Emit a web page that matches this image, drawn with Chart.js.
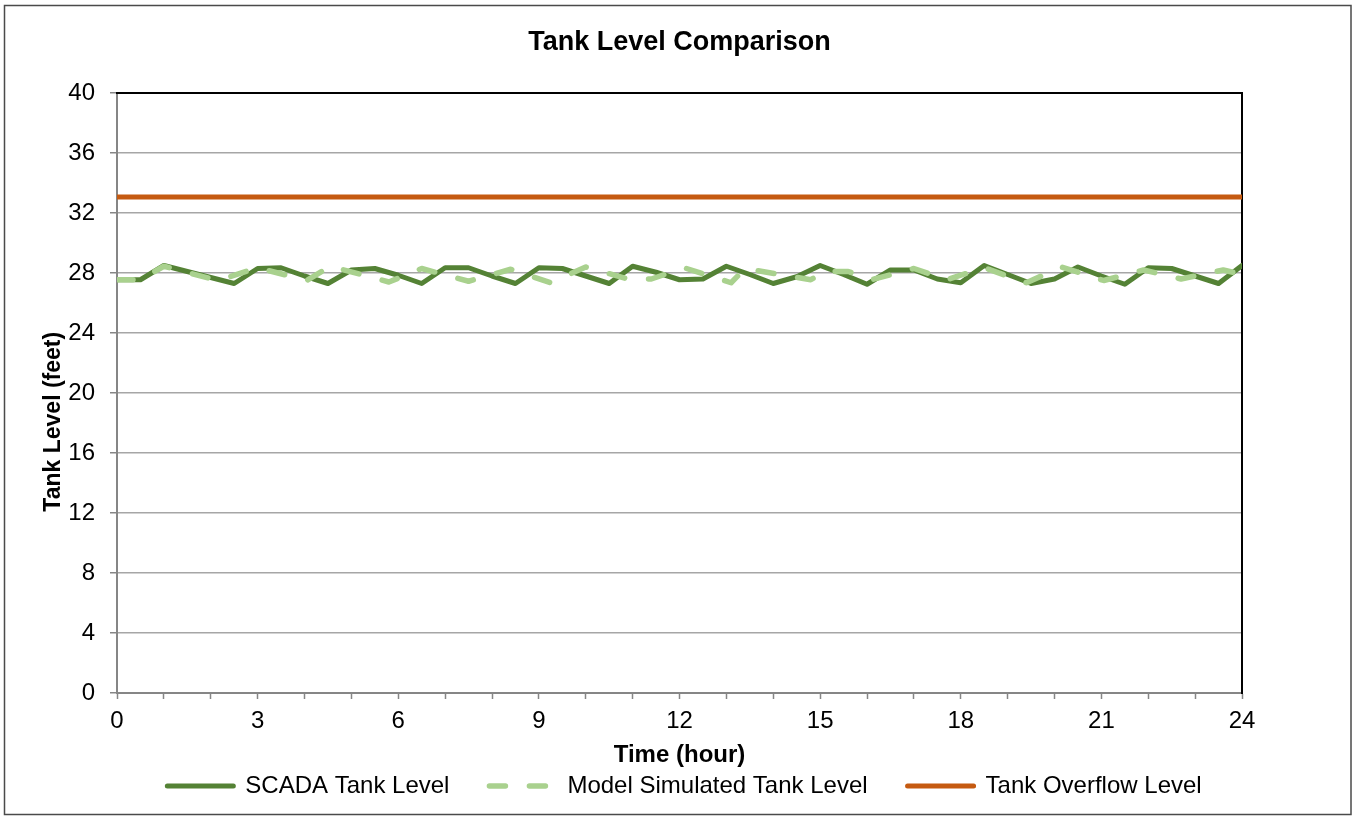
<!DOCTYPE html>
<html>
<head>
<meta charset="utf-8">
<title>Tank Level Comparison</title>
<script src="https://cdn.jsdelivr.net/npm/chart.js@4/dist/chart.umd.min.js"></script>
<style>
  html, body { margin: 0; padding: 0; background: #fff; }
  #wrap { position: relative; width: 1354px; height: 817px; }
</style>
</head>
<body>
<div id="wrap"><canvas id="tankChart" width="1354" height="817"></canvas></div>
<script>
'use strict';

/* ── data ─────────────────────────────────── */
const scadaHours = [0, 0.5, 1, 1.5, 2, 2.5, 3, 3.5, 4, 4.5, 5, 5.5, 6, 6.5, 7, 7.5, 8, 8.5,
  9, 9.5, 10, 10.5, 11, 11.5, 12, 12.5, 13, 13.5, 14, 14.5, 15, 15.5, 16, 16.5,
  17, 17.5, 18, 18.5, 19, 19.5, 20, 20.5, 21, 21.5, 22, 22.5, 23, 23.5, 24];
const scadaLevel = [27.55, 27.55, 28.5, 28.1, 27.7, 27.3, 28.3, 28.35, 27.8, 27.3, 28.2, 28.3, 27.85, 27.3, 28.35, 28.35, 27.8, 27.3,
  28.35, 28.3, 27.8, 27.3, 28.45, 28.05, 27.55, 27.6, 28.45, 27.9, 27.3, 27.75, 28.5, 27.9, 27.25, 28.2,
  28.2, 27.6, 27.35, 28.5, 27.9, 27.3, 27.6, 28.4, 27.8, 27.25, 28.35, 28.3, 27.8, 27.3, 28.5];

const modelHours = [0, 0.5, 1, 2.15, 3, 4.05, 4.55, 5.8, 6.5, 7.5, 8.4, 9.25, 10, 10.9, 11.4, 12.1,
  13.1, 13.4, 14.8, 15.1, 15.6, 16.1, 17, 17.7, 18.5, 19.4, 20.15, 21.05, 21.9, 22.7, 23.6, 24];
const modelLevel = [27.55, 27.55, 28.45, 27.5, 28.35, 27.5, 28.45, 27.4, 28.3, 27.45, 28.25, 27.35, 28.4, 27.6, 27.6, 28.35,
  27.35, 28.3, 27.55, 28.1, 28.1, 27.55, 28.3, 27.55, 28.35, 27.35, 28.4, 27.5, 28.2, 27.6, 28.2, 27.9];

const overflowHours = [0, 24];
const overflowLevel = [33.07, 33.07];

const seriesNames = ['SCADA Tank Level', 'Model Simulated Tank Level', 'Tank Overflow Level'];
const seriesColors = ['#548235', '#A9D18E', '#C55A11'];

const xMin = 0, xMax = 24, xStep = 1, xLabelEvery = 3;
const yMin = 0, yMax = 40, yStep = 4;

const FONT = '"Liberation Sans", Arial, sans-serif';
const AXIS_GRAY = '#868686';

/* ── helpers ──────────────────────────────── */
function toPoints(xs, ys) { return xs.map((x, i) => ({ x, y: ys[i] })); }

const outerBorder = {
  id: 'outerBorder',
  afterDraw(chart) {
    const c = chart.ctx;
    c.save();
    c.strokeStyle = '#4a4a4a';
    c.lineWidth = 1.5;
    c.strokeRect(4.5, 5.5, 1346.5, 809);
    c.restore();
  }
};

/* ── chart ────────────────────────────────── */
const datasets = [
  { label: seriesNames[0], data: toPoints(scadaHours, scadaLevel), borderColor: seriesColors[0], borderWidth: 5, borderDash: [] },
  { label: seriesNames[1], data: toPoints(modelHours, modelLevel), borderColor: seriesColors[1], borderWidth: 5.5, borderDash: [16, 24] },
  { label: seriesNames[2], data: toPoints(overflowHours, overflowLevel), borderColor: seriesColors[2], borderWidth: 5, borderDash: [] },
].map((d, i) => Object.assign(d, {
  backgroundColor: d.borderColor,
  pointRadius: 0,
  pointHoverRadius: 0,
  tension: 0,
  fill: false,
  borderCapStyle: 'round',
  borderJoinStyle: 'round',
  order: i === 1 ? 0 : (i === 0 ? 1 : 2),
}));

new Chart(document.getElementById('tankChart').getContext('2d'), {
  type: 'line',
  data: { datasets },
  options: {
    responsive: false,
    animation: false,
    devicePixelRatio: 1,
    layout: { padding: { left: 15, right: 0, top: 0, bottom: 9 } },
    plugins: {
      tooltip: { enabled: false },
      title: {
        display: true,
        text: 'Tank Level Comparison',
        fullSize: false,
        color: '#000',
        font: { family: FONT, size: 27, weight: 'bold' },
        padding: { top: 26.4, bottom: 34.2 },
      },
      legend: {
        position: 'bottom',
        labels: {
          color: '#000',
          font: { family: FONT, size: 24 },
          usePointStyle: true,
          pointStyleWidth: 66,
          padding: 40,
          generateLabels: (chart) => chart.data.datasets.map((ds, i) => ({
            text: ds.label,
            fillStyle: ds.borderColor,
            strokeStyle: ds.borderColor,
            lineWidth: ds.borderWidth,
            lineDash: ds.borderDash,
            lineCap: 'round',
            pointStyle: 'line',
            fontColor: '#000',
            hidden: false,
            datasetIndex: i,
          })),
        },
      },
    },
    scales: {
      x: {
        type: 'linear',
        position: 'bottom',
        min: xMin, max: xMax,
        afterFit: s => { s.height = 41; },
        grid: { display: true, drawOnChartArea: false, drawTicks: true, tickLength: 6, tickColor: AXIS_GRAY, tickWidth: 1.5 },
        border: { display: true, color: AXIS_GRAY, width: 2 },
        ticks: {
          stepSize: xStep,
          autoSkip: false,
          maxRotation: 0,
          padding: 8,
          color: '#000',
          font: { family: FONT, size: 24 },
          callback: v => (v % xLabelEvery === 0 ? String(v) : ''),
        },
        title: {
          display: true,
          text: 'Time (hour)',
          color: '#000',
          font: { family: FONT, size: 24, weight: 'bold' },
          padding: { top: 0, bottom: -36 },
        },
      },
      y: {
        type: 'linear',
        position: 'left',
        min: yMin, max: yMax,
        afterFit: s => { s.width = 102; },
        grid: {
          color: c => (c.tick && c.tick.value === yMax ? '#000' : '#A6A6A6'),
          lineWidth: 1.5,
          drawTicks: true,
          tickLength: 7,
          tickColor: AXIS_GRAY,
        },
        border: { display: true, color: AXIS_GRAY, width: 2 },
        ticks: {
          stepSize: yStep,
          padding: 15,
          color: '#000',
          font: { family: FONT, size: 24 },
        },
        title: {
          display: true,
          text: 'Tank Level (feet)         ',
          color: '#000',
          font: { family: FONT, size: 23, weight: 'bold' },
          padding: { top: 25.2, bottom: 0 },
        },
      },
      x2: {
        type: 'linear',
        position: 'top',
        min: xMin, max: xMax,
        afterFit: s => { s.height = 0; },
        grid: { display: false, drawTicks: false },
        border: { display: true, color: '#000', width: 2 },
        ticks: { display: false },
      },
      y2: {
        type: 'linear',
        position: 'right',
        min: yMin, max: yMax,
        afterFit: s => { s.width = 112; },
        grid: { display: false, drawTicks: false },
        border: { display: true, color: '#000', width: 2 },
        ticks: { display: false },
      },
    },
  },
  plugins: [outerBorder],
});
</script>
</body>
</html>
